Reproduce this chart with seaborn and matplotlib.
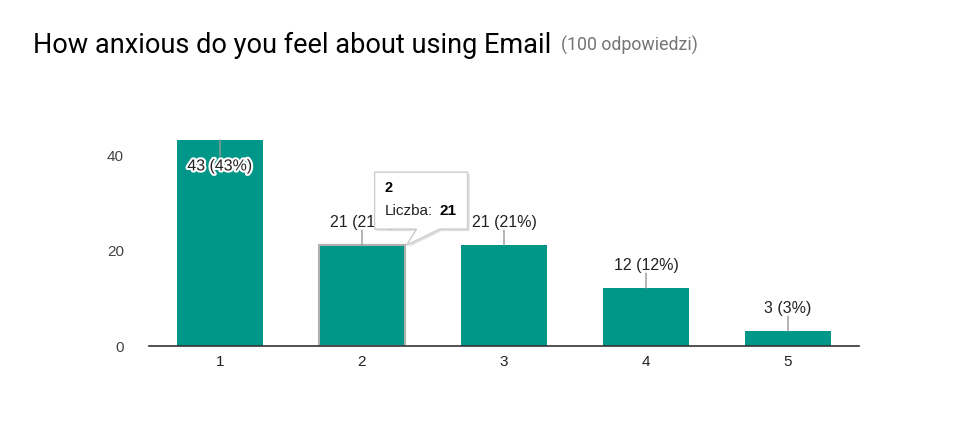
import matplotlib
matplotlib.use("Agg")
import matplotlib.pyplot as plt
import matplotlib.patheffects as pe
from matplotlib.patches import Polygon
from matplotlib.transforms import Affine2D, ScaledTranslation
import seaborn as sns
import pandas as pd

categories = ["1", "2", "3", "4", "5"]
counts = [43, 21, 21, 12, 3]
percents = [43, 21, 21, 12, 3]
title = "How anxious do you feel about using Email"
subtitle = "(100 odpowiedzi)"
tooltip_cat = "2"
tooltip_label = "Liczba:"
yticks = [0, 20, 40]

sns.set_theme(style="white")
plt.rcParams['font.family'] = ['Liberation Sans', 'DejaVu Sans']

W, H = 978, 431
fig = plt.figure(figsize=(W / 100, H / 100), dpi=100)
ax = fig.add_axes([149 / W, (H - 346.5) / H, 710 / W, 239 / H])

df = pd.DataFrame({"cat": categories, "count": counts})
sns.barplot(data=df, x="cat", y="count", color="#009688", saturation=1,
            width=0.6, ax=ax, zorder=2)
bars = ax.patches
for i, b in enumerate(bars):
    b.set_edgecolor("none")
    if categories[i] == tooltip_cat:
        b.set_edgecolor("#b0b0b0")
        b.set_linewidth(1.5)

ax.set_xlim(-0.5, 4.5)
ax.set_ylim(0, 50)
ax.set_yticks(yticks)
ax.set_yticklabels([str(t) for t in yticks])
ax.set_xlabel("")
ax.set_ylabel("")
for s in ["top", "right", "left"]:
    ax.spines[s].set_visible(False)
ax.spines["bottom"].set_color("#333333")
ax.spines["bottom"].set_linewidth(1.2)
ax.tick_params(axis="both", length=0, labelsize=11)
ax.tick_params(axis="x", colors="#222222", pad=6)
ax.tick_params(axis="y", colors="#444444", pad=18)

# value labels with leader lines
for i, (c, p) in enumerate(zip(counts, percents)):
    lbl = f"{c} ({p}%)"
    if c > 40:
        ax.annotate("", xy=(i, c), xytext=(0, -16), textcoords="offset pixels",
                    arrowprops=dict(arrowstyle="-", color="#999999", lw=1, shrinkA=0, shrinkB=0),
                    zorder=3)
        t = ax.annotate(lbl, xy=(i, c), xytext=(0, -26), textcoords="offset pixels",
                        ha="center", va="center", fontsize=11.5, color="#222222", zorder=4)
        t.set_path_effects([pe.withStroke(linewidth=3, foreground="white")])
    else:
        ax.annotate("", xy=(i, c), xytext=(0, 15), textcoords="offset pixels",
                    arrowprops=dict(arrowstyle="-", color="#999999", lw=1, shrinkA=0, shrinkB=0),
                    zorder=3)
        ax.annotate(lbl, xy=(i, c), xytext=(0, 24), textcoords="offset pixels",
                    ha="center", va="center", fontsize=11.5, color="#222222", zorder=3)

# tooltip
ti = categories.index(tooltip_cat)
ax_x = ti + 0.3
ax_y = counts[ti]
verts = [(-30, -73), (63, -73), (63, -16), (35, -16), (2, 0), (12, -16), (-30, -16)]
tr = Affine2D().scale(1, -1) + ScaledTranslation(ax_x, ax_y, ax.transData)
shadow = Polygon(verts, closed=True, transform=Affine2D().scale(1, -1).translate(2, -2) + ScaledTranslation(ax_x, ax_y, ax.transData),
                 facecolor="#000000", alpha=0.12, edgecolor="none", zorder=9, clip_on=False)
ax.add_patch(shadow)
tip = Polygon(verts, closed=True, transform=tr, facecolor="white", edgecolor="#cccccc",
              linewidth=1, zorder=10, clip_on=False)
ax.add_patch(tip)
ax.annotate(tooltip_cat, xy=(ax_x, ax_y), xytext=(-20, 58), textcoords="offset pixels",
            ha="left", va="center", fontsize=10.5, fontweight="bold", color="#000000", zorder=11)
ax.annotate(tooltip_label, xy=(ax_x, ax_y), xytext=(-20, 35), textcoords="offset pixels",
            ha="left", va="center", fontsize=11, color="#222222", zorder=11)
ax.annotate(str(counts[ti]), xy=(ax_x, ax_y), xytext=(35, 35), textcoords="offset pixels",
            ha="left", va="center", fontsize=11, fontweight="bold", color="#000000", zorder=11)

# title
t1 = fig.text(33 / W, 1 - 45 / H, title, fontsize=19.5, family=["Roboto", "DejaVu Sans"],
              color="#000000", ha="left", va="center")
fig.canvas.draw()
bb = t1.get_window_extent()
fig.text((bb.x1 + 10) / W, 1 - 45 / H, subtitle, fontsize=12.8, family=["Roboto", "DejaVu Sans"],
         color="#757575", ha="left", va="center")

fig.savefig("out.png", dpi=100)
